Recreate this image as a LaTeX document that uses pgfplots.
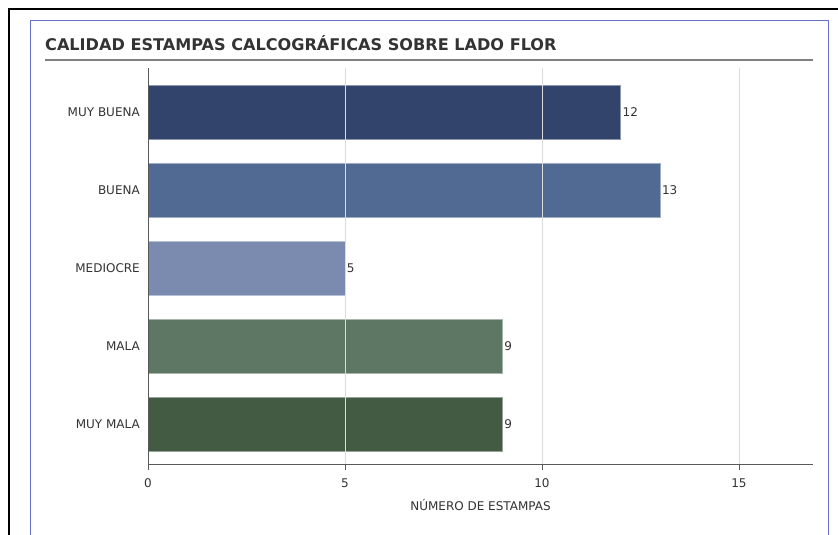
\documentclass[border=0pt]{standalone}
\usepackage{pgfplots}
\pgfplotsset{compat=1.18}
\usepackage{fontspec}
\setmainfont{DejaVu Sans}
\definecolor{cA}{RGB}{50,68,108}
\definecolor{cB}{RGB}{81,106,148}
\definecolor{cC}{RGB}{122,139,175}
\definecolor{cD}{RGB}{94,118,100}
\definecolor{cE}{RGB}{67,90,67}
\definecolor{txt}{RGB}{51,51,51}
\definecolor{frameblue}{RGB}{102,112,200}
\begin{document}
\begin{tikzpicture}[x=1pt,y=1pt]
\useasboundingbox (0,0) rectangle (838,535);
\begin{scope}
\clip (0,0) rectangle (838,535);
\fill[white] (0,0) rectangle (838,535);
\draw[black,line width=2pt] (9,-5) -- (9,526) -- (845,526);
\draw[frameblue,line width=1pt] (30,-5) -- (30,514) -- (828,514) -- (828,-5);
\end{scope}
\node[anchor=base west,inner sep=0pt,text=txt,font=\bfseries\fontsize{16.1}{18}\selectfont] at (45,484) {CALIDAD ESTAMPAS CALCOGRÁFICAS SOBRE LADO FLOR};
\draw[gray,line width=1.3pt] (45,475) -- (813,475);
\begin{axis}[
  at={(148pt,70pt)}, anchor=south west,
  scale only axis, width=665pt, height=397pt,
  xmin=0, xmax=16.88, ymin=-0.526, ymax=4.564,
  axis lines*=left,
  axis line style={draw=black!65, line width=1pt},
  axis on top,
  xbar, bar width=54pt, bar shift=0pt,
  xtick={0,5,10,15},
  ytick={0,1,2,3,4},
  yticklabels={MUY MALA,MALA,MEDIOCRE,BUENA,MUY BUENA},
  xmajorgrids, major grid style={draw=black!14, line width=0.8pt},
  tick align=outside,
  major tick length=5pt,
  xtick style={draw=black!65, line width=0.8pt},
  ytick style={draw=none},
  /pgf/number format/assume math mode=true,
  tick label style={font=\fontsize{12}{14}\selectfont, text=txt},
  xticklabel style={anchor=center, yshift=-13pt, inner sep=0pt},
  yticklabel style={anchor=east, inner sep=0pt, xshift=-3pt},
  xlabel={NÚMERO DE ESTAMPAS},
  xlabel style={at={(axis description cs:0.5,0)}, anchor=center, yshift=-40pt, font=\fontsize{12}{14}\selectfont, text=txt},
  nodes near coords,
  every node near coord/.append style={anchor=west, inner sep=1.5pt, font=\fontsize{12}{14}\selectfont, text=txt},
]
\addplot[fill=cA, draw=cA!55!white, line width=0.8pt] coordinates {(12,4)};
\addplot[fill=cB, draw=cB!55!white, line width=0.8pt] coordinates {(13,3)};
\addplot[fill=cC, draw=cC!55!white, line width=0.8pt] coordinates {(5,2)};
\addplot[fill=cD, draw=cD!55!white, line width=0.8pt] coordinates {(9,1)};
\addplot[fill=cE, draw=cE!55!white, line width=0.8pt] coordinates {(9,0)};
\end{axis}
\end{tikzpicture}
\end{document}
